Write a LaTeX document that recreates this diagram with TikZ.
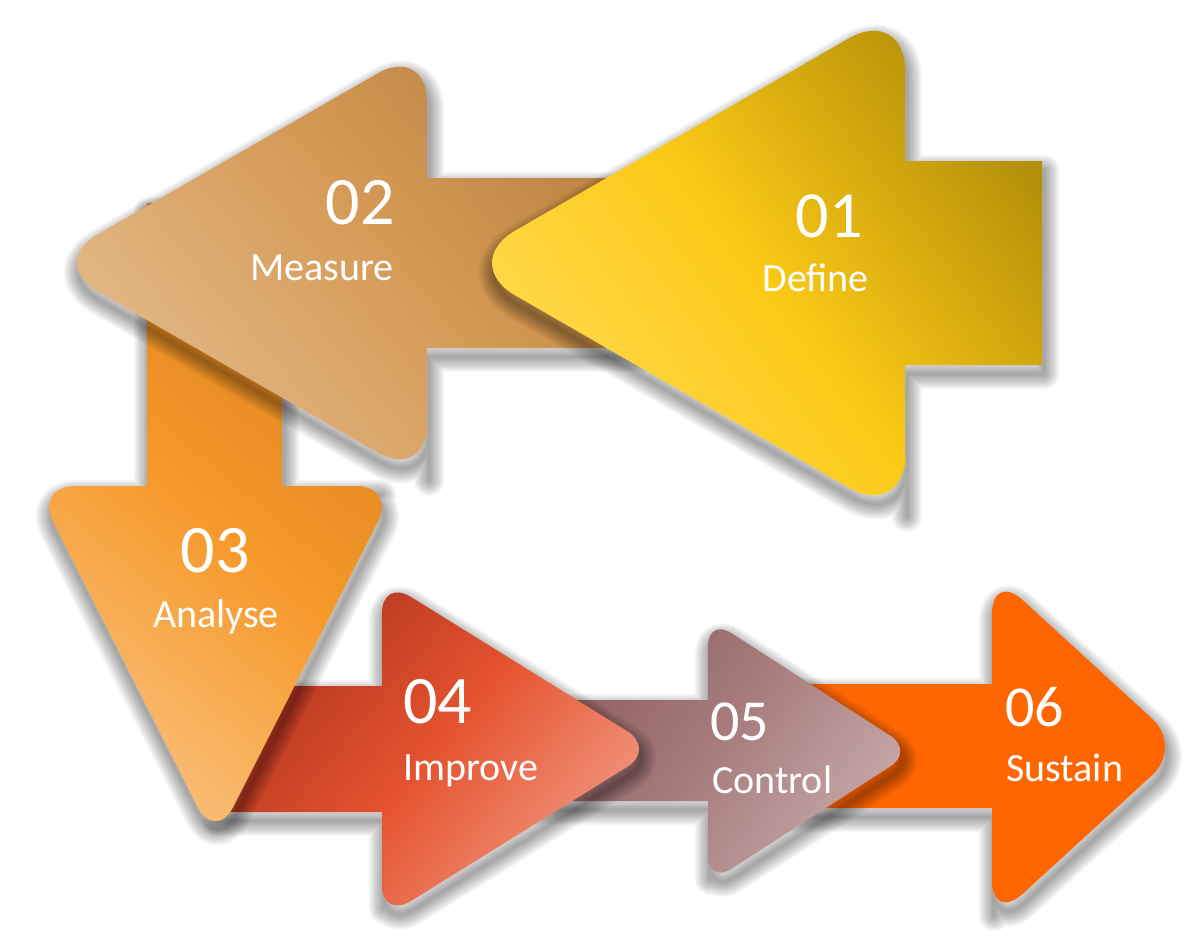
\documentclass[tikz,border=0pt]{standalone}
\usepackage{fontspec}
\setmainfont{Carlito}
\usepackage{tikz}

\definecolor{defA}{HTML}{FFDC55}
\definecolor{defB}{HTML}{FCC916}
\definecolor{defC}{HTML}{B59009}
\definecolor{meaA}{HTML}{E3BA8A}
\definecolor{meaB}{HTML}{D59A56}
\definecolor{meaC}{HTML}{B8803E}
\definecolor{anaA}{HTML}{FABF7A}
\definecolor{anaB}{HTML}{F6992A}
\definecolor{anaC}{HTML}{D8821E}
\definecolor{impA}{HTML}{B0341F}
\definecolor{impB}{HTML}{E5532F}
\definecolor{impC}{HTML}{F29A84}
\definecolor{conA}{HTML}{8A5A5C}
\definecolor{conB}{HTML}{A77B7B}
\definecolor{conC}{HTML}{C6A9A8}
\definecolor{susA}{HTML}{FF6600}

\pgfdeclarehorizontalshading{defshade}{100bp}{color(0bp)=(defA); color(25bp)=(defA); color(50bp)=(defB); color(75bp)=(defC); color(100bp)=(defC)}
\pgfdeclarehorizontalshading{meashade}{100bp}{color(0bp)=(meaA); color(25bp)=(meaA); color(52bp)=(meaB); color(75bp)=(meaC); color(100bp)=(meaC)}
\pgfdeclarehorizontalshading{anashade}{100bp}{color(0bp)=(anaA); color(25bp)=(anaA); color(50bp)=(anaB); color(75bp)=(anaC); color(100bp)=(anaC)}
\pgfdeclarehorizontalshading{impshade}{100bp}{color(0bp)=(impA); color(25bp)=(impA); color(50bp)=(impB); color(75bp)=(impC); color(100bp)=(impC)}
\pgfdeclarehorizontalshading{conshade}{100bp}{color(0bp)=(conA); color(25bp)=(conA); color(50bp)=(conB); color(75bp)=(conC); color(100bp)=(conC)}

% outlines of the six arrows
\newcommand\pSustain{(760,684) -- (992,684) -- (992,628)
  [rounded corners=42pt] -- (992,572) -- (1183,747) -- (992,922) -- (992,865)
  [sharp corners] -- (992,808) -- (760,808) -- cycle}
\newcommand\pControl{(500,700) -- (708,700) -- (708,659)
  [rounded corners=28pt] -- (708,618) -- (914,751) -- (708,884) -- (708,842.5)
  [sharp corners] -- (708,801) -- (500,801) -- cycle}
\newcommand\pImprove{(215,686) -- (382,686) -- (382,632.5)
  [rounded corners=34pt] -- (382,579) -- (656,749) -- (382,919) -- (382,865.5)
  [sharp corners] -- (382,812) -- (215,812) -- cycle}
\newcommand\pAnalyse{(147,203) -- (147,486) -- (91,486)
  [rounded corners=40pt] -- (35,486) -- (215.5,842) -- (396,486) -- (339,486)
  [sharp corners] -- (282,486) -- (282,203) -- cycle}
\newcommand\pMeasure{(700,178) -- (427,178) -- (427,111.5)
  [rounded corners=57pt] -- (427,45) -- (48,263) -- (427,481) -- (427,414.5)
  [sharp corners] -- (427,348) -- (700,348) -- cycle}
\newcommand\pDefine{(1042,161) -- (905,161) -- (905,83.5)
  [rounded corners=65pt] -- (905,6) -- (459,263) -- (905,520) -- (905,442.5)
  [sharp corners] -- (905,365) -- (1042,365) -- cycle}

% soft shadow under one outline
\newcommand\softshadow[1]{%
  \begin{scope}[shift={(2,9)}]
    \foreach \k in {1,...,14}
      \draw[line width=\k*2.2pt, line join=round, draw=black, draw opacity=0.028] #1;
  \end{scope}}

\begin{document}
\begin{tikzpicture}[x=1pt, y=-1pt,
    num/.style={text=white, inner sep=0pt, font=\fontsize{#1}{#1}\selectfont},
    lbl/.style={text=white, inner sep=0pt, font=\fontsize{40}{40}\selectfont}]
  \fill[white] (0,0) rectangle (1200,950);
  \useasboundingbox (0,0) rectangle (1200,950);

  \softshadow{\pSustain}
  \path[fill=susA] \pSustain;
  \softshadow{\pControl}
  \path[shading=conshade, shading angle=-35] \pControl;
  \softshadow{\pImprove}
  \path[shading=impshade, shading angle=-40] \pImprove;
  \softshadow{\pAnalyse}
  \path[shading=anashade, shading angle=50] \pAnalyse;
  \softshadow{\pMeasure}
  \path[shading=meashade, shading angle=40] \pMeasure;
  \softshadow{\pDefine}
  \path[shading=defshade, shading angle=37] \pDefine;

  \node[num=66, anchor=base east] (n01) at (863,237) {01};
  \node[lbl, anchor=base east] (l01) at (869,291) {Define};
  \node[num=68, anchor=base east] (n02) at (395,224) {02};
  \node[lbl, anchor=base east] (l02) at (394,280) {Measure};
  \node[num=68, anchor=base] (n03) at (215,572) {03};
  \node[lbl, anchor=base] (l03) at (216,627) {Analyse};
  \node[num=68, anchor=base west] (n04) at (403,723) {04};
  \node[lbl, anchor=base west] (l04) at (403,780) {Improve};
  \node[num=58, anchor=base west] (n05) at (710,740) {05};
  \node[lbl, anchor=base west] (l05) at (712,793) {Control};
  \node[num=58, anchor=base west] (n06) at (1005,726) {06};
  \node[lbl, anchor=base west] (l06) at (1006,781) {Sustain};
\end{tikzpicture}
\end{document}
